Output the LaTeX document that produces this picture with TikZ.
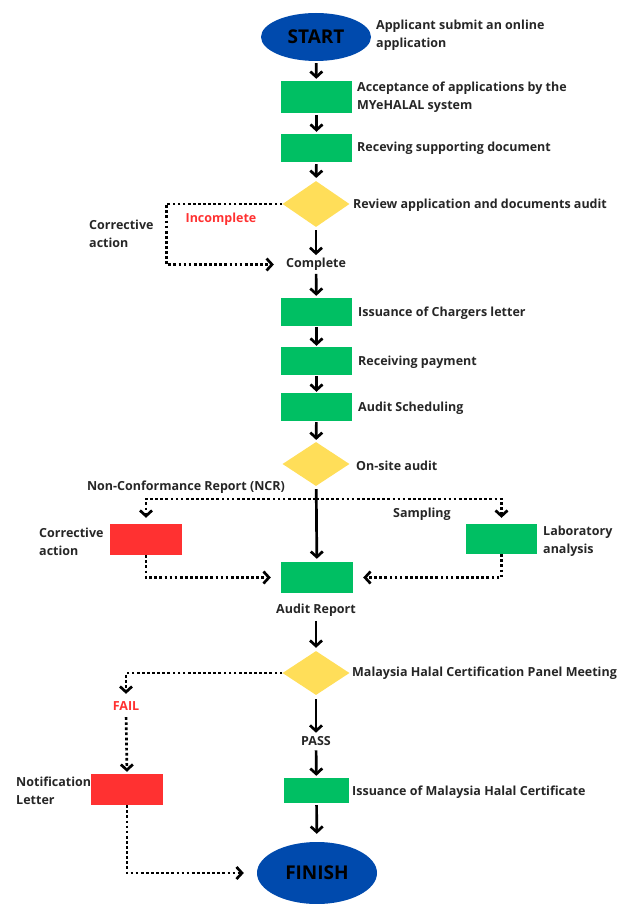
\documentclass[tikz,border=0pt]{standalone}
\usepackage{fontspec}
\setmainfont{Open Sans}
\usetikzlibrary{shapes.geometric,arrows.meta}
\definecolor{cblue}{HTML}{004AAD}
\definecolor{cgreen}{HTML}{00BF63}
\definecolor{cred}{HTML}{FF3131}
\definecolor{cyellow}{HTML}{FFDE59}
\begin{document}
\begin{tikzpicture}[x=1pt,y=-1pt,
  lbl/.style={inner sep=0pt, align=left, yshift=-1.5pt, font=\fontsize{12.5}{18}\selectfont\bfseries, text=black!85},
  gbox/.style={fill=cgreen, minimum width=71pt, minimum height=28pt, inner sep=0pt},
  rbox/.style={fill=cred, minimum width=72pt, minimum height=31pt, inner sep=0pt},
  dia/.style={diamond, fill=cyellow, minimum width=67pt, minimum height=46pt, inner sep=0pt},
  oval/.style={ellipse, fill=cblue, inner sep=0pt, font=\fontsize{19}{24}\selectfont\bfseries},
  arr/.style={line width=2.7pt, -{Straight Barb[length=5.5pt,width=12pt]}},
  dotarr/.style={line width=2.7pt, dash pattern=on 2.7pt off 2.4pt, -{Straight Barb[length=5.5pt,width=12pt]}}
]
\useasboundingbox (0,0) rectangle (631,904);
% main column
\node[oval, minimum width=110pt, minimum height=48pt] (start) at (316,37) {START};
\node[gbox, minimum height=32pt] (b1) at (316.5,97) {};
\node[gbox] (b2) at (316.5,148) {};
\node[dia] (d1) at (316,204) {};
\node[lbl] (complete) at (316,263) {Complete};
\node[gbox] (b3) at (316.5,312) {};
\node[gbox] (b4) at (316.5,361) {};
\node[gbox] (b5) at (316.5,407) {};
\node[dia, minimum height=44pt] (d2) at (316,464) {};
\node[rbox] (red1) at (146,539.5) {};
\node[gbox, minimum height=30pt] (lab) at (501.5,539) {};
\node[gbox, minimum width=72pt, minimum height=31pt] (audit) at (317,577.5) {};
\node[lbl] (report) at (316,609) {Audit Report};
\node[dia, minimum height=44pt] (d3) at (316,673) {};
\node[lbl, text=cred] (fail) at (126,705) {FAIL};
\node[rbox] (red2) at (127,789.5) {};
\node[lbl] (pass) at (316,740) {PASS};
\node[gbox, minimum width=65pt, minimum height=25pt] (cert) at (316.5,790.5) {};
\node[oval, minimum width=120pt, minimum height=62pt] (finish) at (317,873) {FINISH};
\coordinate (tee) at (316,499);
% labels
\node[lbl, anchor=west] (t0) at (376,34) {Applicant submit an online\\application};
\node[lbl, anchor=west] (t1) at (357,96) {Acceptance of applications by the\\MYeHALAL system};
\node[lbl, anchor=west] (t2) at (357,147) {Receving supporting document};
\node[lbl, anchor=west] (t3) at (353,204) {Review application and documents audit};
\node[lbl, text=cred] (incomplete) at (221,218) {Incomplete};
\node[lbl, anchor=west] (corr1) at (89,232) {Corrective\\action};
\node[lbl, anchor=west] (t4) at (358,312) {Issuance of Chargers letter};
\node[lbl, anchor=west] (t5) at (358,361) {Receiving payment};
\node[lbl, anchor=west] (t6) at (358,407) {Audit Scheduling};
\node[lbl, anchor=west] (t7) at (356,464) {On-site audit};
\node[lbl] (ncr) at (186,486) {Non-Conformance Report (NCR)};
\node[lbl] (sampling) at (422,513) {Sampling};
\node[lbl, anchor=west] (corr2) at (39,540) {Corrective\\action};
\node[lbl, anchor=west] (labt) at (543,540) {Laboratory\\analysis};
\node[lbl, anchor=west] (t8) at (352,672) {Malaysia Halal Certification Panel Meeting};
\node[lbl, anchor=west] (notif) at (16,789) {Notification\\Letter};
\node[lbl, anchor=west] (t9) at (352,791) {Issuance of Malaysia Halal Certificate};
% solid arrows
\draw[arr, shorten <=2pt, shorten >=2pt] (start) -- (b1);
\draw[arr, shorten <=2pt, shorten >=2pt] (b1) -- (b2);
\draw[arr, shorten <=2pt, shorten >=3pt] (b2) -- (d1);
\draw[arr, shorten <=3pt, shorten >=3pt] (d1) -- (complete);
\draw[arr, shorten <=3pt, shorten >=2pt] (complete) -- (b3);
\draw[arr, shorten <=1pt, shorten >=1pt] (b3) -- (b4);
\draw[arr, shorten <=1pt, shorten >=1pt] (b4) -- (b5);
\draw[arr, shorten <=1pt, shorten >=2pt] (b5) -- (d2);
\draw[arr, shorten <=3pt, shorten >=3pt] (d2) -- (audit);
\draw[arr, shorten <=4pt, shorten >=3pt] (report) -- (d3);
\draw[arr, shorten <=4pt, shorten >=4pt] (d3) -- (pass);
\draw[arr, shorten <=4pt, shorten >=2pt] (pass) -- (cert);
\draw[arr, shorten <=2pt, shorten >=8pt] (cert) -- (finish);
% dotted connectors
\draw[dotarr, shorten >=12pt] (d1.west) -- ++(-116,0) |- (complete.west);
\draw[dotarr, shorten >=6pt] (tee) -| (red1.north);
\draw[dotarr, shorten >=6pt] (tee) -| (lab.north);
\draw[dotarr, shorten >=10pt] (red1.south) |- (audit.west);
\draw[dotarr, shorten >=10pt] (lab.south) |- (audit.east);
\draw[dotarr, shorten >=8pt] (d3.west) -| (fail.north);
\draw[dotarr, shorten <=6pt, shorten >=2pt] (fail.south) -- (red2.north);
\draw[dotarr, shorten >=13pt] (red2.south) |- (finish.west);
\end{tikzpicture}
\end{document}
